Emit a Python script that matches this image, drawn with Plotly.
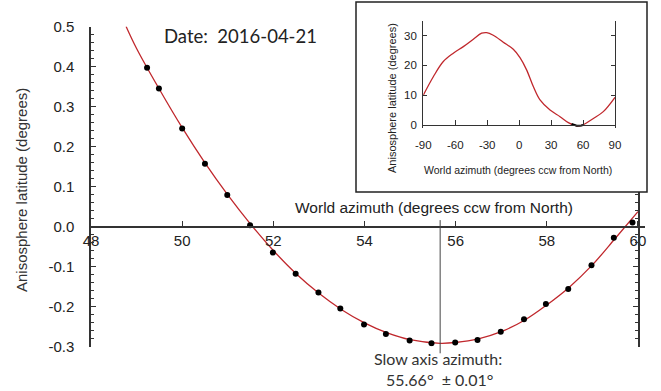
import plotly.graph_objects as go

# Measured anisosphere latitude (degrees) against world azimuth (degrees ccw from North)
azimuth = [49.23, 49.49, 50.0, 50.5, 50.99, 51.49, 51.99, 52.49, 52.99, 53.47, 53.99, 54.47,
           54.99, 55.47, 55.99, 56.48, 56.99, 57.5, 57.98, 58.47, 58.98, 59.47, 59.88]
latitude = [0.397, 0.345, 0.245, 0.157, 0.079, 0.003, -0.065, -0.118, -0.165, -0.205, -0.245, -0.269,
            -0.285, -0.292, -0.290, -0.284, -0.263, -0.232, -0.194, -0.156, -0.097, -0.028, 0.010]

# Fitted curve through the measurements
fit_azimuth = [48.77, 49.0, 49.5, 50.0, 50.5, 51.0, 51.5, 52.0, 52.5, 53.0, 53.5, 54.0, 54.5, 55.0,
               55.66, 56.0, 56.5, 57.0, 57.5, 58.0, 58.5, 59.0, 59.5, 60.0]
fit_latitude = [0.500, 0.445, 0.343, 0.247, 0.159, 0.079, 0.006, -0.060, -0.118, -0.167, -0.208, -0.241,
                -0.266, -0.283, -0.292, -0.290, -0.281, -0.263, -0.235, -0.196, -0.151, -0.096, -0.030, 0.037]

# Full-range model shown in the inset
model_azimuth = [-90, -80.6, -71.2, -61.8, -52.4, -43, -35.2, -30.5, -24.3, -14.9, -5.5, 0.8, 7.0,
                 13.3, 19.6, 29, 38.4, 46.2, 52.4, 57, 60.3, 69.7, 79, 90]
model_latitude = [10, 16.2, 21.3, 24.1, 26.3, 28.8, 30.8, 31, 30.1, 27.8, 25.4, 22.6, 18.5,
                  12.9, 8.4, 5, 2.8, 0.8, -0.1, -0.3, 0.1, 2.2, 4.5, 9.3]

SLOW_AXIS = 55.66
SLOW_AXIS_ERR = 0.01
DATE = "2016-04-21"

main_xticks = [48, 50, 52, 54, 56, 58, 60]
main_yticks = [-0.3, -0.2, -0.1, 0.0, 0.1, 0.2, 0.3, 0.4, 0.5]
inset_xticks = [-90, -60, -30, 0, 30, 60, 90]
inset_yticks = [0, 10, 20, 30]

W, H = 661, 391
X_RANGE = [48, 60.15]
Y_RANGE = [-0.3, 0.5]

AX = "#333333"
TXT = "#222222"
RED = "#c0282d"
SANS = "Liberation Sans, Arial, sans-serif"
CAL = "Lato, Carlito, sans-serif"


def fx(px):
    return px / W


def fy(py):
    return 1 - py / H


fig = go.Figure()

# main plot
fig.add_trace(go.Scatter(x=fit_azimuth, y=fit_latitude, mode="lines",
                         line=dict(color=RED, width=1.3, shape="spline"),
                         xaxis="x", yaxis="y", hoverinfo="skip"))
fig.add_trace(go.Scatter(x=azimuth, y=latitude, mode="markers",
                         marker=dict(color="black", size=6),
                         xaxis="x", yaxis="y"))
# right-hand frame axis (stops under the inset)
fig.add_trace(go.Scatter(x=[], y=[], xaxis="x2", yaxis="y2"))

# inset
fig.add_trace(go.Scatter(x=model_azimuth, y=model_latitude, mode="lines",
                         line=dict(color=RED, width=1.3, shape="spline"),
                         xaxis="x3", yaxis="y3", hoverinfo="skip"))
fig.add_trace(go.Scatter(x=azimuth, y=latitude, mode="lines",
                         line=dict(color="black", width=2),
                         xaxis="x3", yaxis="y3"))

y_top_px, y_bot_px = 26.5, 346.5
box_bottom_px = 192
y2_top = Y_RANGE[0] + (y_bot_px - box_bottom_px) / (y_bot_px - y_top_px) * (Y_RANGE[1] - Y_RANGE[0])

fig.update_layout(
    width=W, height=H,
    margin=dict(l=0, r=0, t=0, b=0, pad=0, autoexpand=False),
    paper_bgcolor="white", plot_bgcolor="rgba(0,0,0,0)",
    showlegend=False,
    xaxis=dict(
        domain=[fx(91), fx(644.8)], range=X_RANGE,
        anchor="free", position=fy(226.5),
        showline=True, linecolor=AX, linewidth=2,
        ticks="inside", ticklen=5, tickwidth=1, tickcolor=AX,
        tickvals=main_xticks, showgrid=False, zeroline=False,
        tickfont=dict(family=SANS, size=15, color=TXT),
    ),
    yaxis=dict(
        domain=[fy(y_bot_px), fy(y_top_px)], range=Y_RANGE,
        anchor="x",
        showline=True, linecolor=AX, linewidth=1.5,
        ticks="inside", ticklen=5, tickwidth=1, tickcolor=AX,
        tickvals=main_yticks, ticktext=[f"{v:.1f}" for v in main_yticks],
        minor=dict(ticks="inside", dtick=0.02, tick0=0, ticklen=3, tickcolor=AX, showgrid=False),
        showgrid=False, zeroline=False,
        ticklabelstandoff=12,
        tickfont=dict(family=SANS, size=15, color=TXT),
    ),
    xaxis2=dict(
        domain=[fx(91), fx(638)], range=[X_RANGE[0], 60],
        anchor="y2", visible=False,
    ),
    yaxis2=dict(
        domain=[fy(y_bot_px), fy(box_bottom_px)], range=[Y_RANGE[0], y2_top],
        anchor="x2", side="right",
        showline=True, linecolor=AX, linewidth=1.5,
        ticks="inside", ticklen=5, tickwidth=1, tickcolor=AX,
        dtick=0.1, tick0=0, showticklabels=False,
        minor=dict(ticks="inside", dtick=0.02, tick0=0, ticklen=3, tickcolor=AX, showgrid=False),
        showgrid=False, zeroline=False,
    ),
    xaxis3=dict(
        domain=[fx(423.3), fx(615)], range=[-90, 90],
        anchor="free", position=fy(125),
        showline=True, linecolor=AX, linewidth=1.2,
        ticks="inside", ticklen=5, tickwidth=1.2, tickcolor=AX,
        tickvals=inset_xticks, ticktext=[str(v) for v in inset_xticks],
        showgrid=False, zeroline=False,
        ticklabelstandoff=9,
        tickfont=dict(family=SANS, size=11.5, color=TXT),
    ),
    yaxis3=dict(
        domain=[fy(128), fy(20.7)], range=[-1, 35],
        anchor="x3",
        showline=True, linecolor=AX, linewidth=1.2, mirror="ticks",
        ticks="inside", ticklen=4, tickwidth=1.2, tickcolor=AX,
        tickvals=inset_yticks, showgrid=False, zeroline=False,
        ticklabelstandoff=3,
        tickfont=dict(family=SANS, size=11.5, color=TXT),
    ),
    shapes=[
        # inset frame
        dict(type="rect", xref="paper", yref="paper",
             x0=fx(356), x1=fx(647), y0=fy(192), y1=fy(2),
             line=dict(color="#222222", width=1.5)),
        # slow axis marker
        dict(type="line", xref="x domain", yref="y domain",
             x0=(SLOW_AXIS - X_RANGE[0]) / (X_RANGE[1] - X_RANGE[0]),
             x1=(SLOW_AXIS - X_RANGE[0]) / (X_RANGE[1] - X_RANGE[0]),
             y0=(0.016 - Y_RANGE[0]) / (Y_RANGE[1] - Y_RANGE[0]),
             y1=(-0.317 - Y_RANGE[0]) / (Y_RANGE[1] - Y_RANGE[0]),
             line=dict(color="#444444", width=1)),
    ],
    annotations=[
        dict(text="World azimuth (degrees ccw from North)", xref="paper", yref="paper",
             x=fx(434), y=fy(207), showarrow=False, xanchor="center", yanchor="middle",
             font=dict(family=SANS, size=15.5, color=TXT)),
        dict(text="Anisosphere latitude (degrees)", xref="paper", yref="paper",
             x=fx(22), y=fy(190), showarrow=False, textangle=-90,
             xanchor="center", yanchor="middle",
             font=dict(family=SANS, size=15, color="#333333")),
        dict(text="Date:\u00a0\u00a0" + DATE, xref="paper", yref="paper",
             x=fx(240), y=fy(36), showarrow=False, xanchor="center", yanchor="middle",
             font=dict(family=CAL, size=18.5, color=TXT)),
        dict(text="Slow axis azimuth:", xref="paper", yref="paper",
             x=fx(437.5), y=fy(358), showarrow=False, xanchor="center", yanchor="middle",
             font=dict(family=CAL, size=16, color="#333333")),
        dict(text=f"{SLOW_AXIS:.2f}°\u00a0\u00a0± {SLOW_AXIS_ERR:.2f}°", xref="paper", yref="paper",
             x=fx(439.5), y=fy(379), showarrow=False, xanchor="center", yanchor="middle",
             font=dict(family=CAL, size=16, color="#333333")),
        dict(text="World azimuth (degrees ccw from North)", xref="paper", yref="paper",
             x=fx(518), y=fy(170), showarrow=False, xanchor="center", yanchor="middle",
             font=dict(family=SANS, size=10.5, color=TXT)),
        dict(text="Anisosphere latitude (degrees)", xref="paper", yref="paper",
             x=fx(392), y=fy(98), showarrow=False, textangle=-90,
             xanchor="center", yanchor="middle",
             font=dict(family=SANS, size=11, color=TXT)),
    ],
)

fig.write_html("out.html")
